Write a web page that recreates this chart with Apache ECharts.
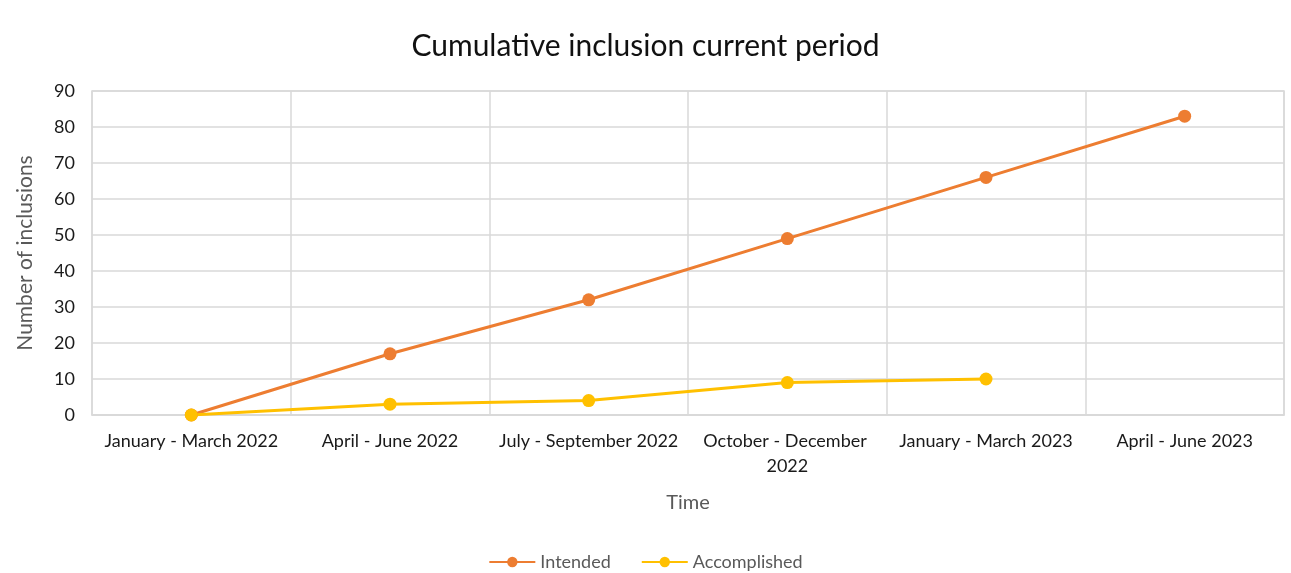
<!DOCTYPE html>
<html>
<head>
<meta charset="utf-8">
<script src="https://cdn.jsdelivr.net/npm/echarts@6/dist/echarts.min.js"></script>
<style>
html,body{margin:0;padding:0;background:#fdfdf7;}
#chart{width:1291px;height:573px;}
</style>
</head>
<body>
<div id="chart"></div>
<script>
const categories = ["January - March 2022","April - June 2022","July - September 2022","October - December 2022","January - March 2023","April - June 2023"];
const intended = [0, 17, 32, 49, 66, 83];
const accomplished = [0, 3, 4, 9, 10, null];
const yTicks = {min: 0, max: 90, interval: 10};

const FONT = 'Lato, "Open Sans", sans-serif';
const chart = echarts.init(document.getElementById('chart'));
chart.setOption({
  backgroundColor: '#ffffff',
  textStyle: {fontFamily: FONT},
  title: {
    text: 'Cumulative inclusion current period',
    left: 'center', top: 26,
    textStyle: {fontFamily: FONT, fontSize: 30, fontWeight: 'normal', color: '#111111'}
  },
  grid: {left: 92, right: 7, top: 91, bottom: 158, show: true, borderColor: '#d9d9d9', borderWidth: 1.5},
  legend: {
    top: 548, left: 'center', itemWidth: 46, itemHeight: 13, itemGap: 30,
    textStyle: {fontFamily: FONT, fontSize: 18, color: '#595959'},
    data: ['Intended', 'Accomplished']
  },
  xAxis: {
    type: 'category', data: categories, boundaryGap: true,
    name: 'Time', nameLocation: 'middle', nameGap: 78,
    nameTextStyle: {fontFamily: FONT, fontSize: 20, color: '#595959'},
    axisLine: {lineStyle: {color: '#d9d9d9', width: 1.5}},
    axisTick: {show: false},
    axisLabel: {interval: 0, fontFamily: FONT, fontSize: 18, color: '#1a1a1a', margin: 14, width: 184, overflow: 'break', lineHeight: 25},
    splitLine: {show: true, interval: 0, lineStyle: {color: '#d9d9d9', width: 1.5}}
  },
  yAxis: {
    type: 'value', min: yTicks.min, max: yTicks.max, interval: yTicks.interval,
    name: 'Number of inclusions', nameLocation: 'middle', nameGap: 56,
    nameTextStyle: {fontFamily: FONT, fontSize: 21, color: '#595959'},
    axisLine: {show: false}, axisTick: {show: false},
    axisLabel: {fontFamily: FONT, fontSize: 18, color: '#1a1a1a', margin: 17},
    splitLine: {lineStyle: {color: '#d9d9d9', width: 1.5}}
  },
  series: [
    {name: 'Intended', type: 'line', data: intended, symbol: 'circle', symbolSize: 13,
     lineStyle: {color: '#ED7D31', width: 3}, itemStyle: {color: '#ED7D31'}},
    {name: 'Accomplished', type: 'line', data: accomplished, symbol: 'circle', symbolSize: 13,
     lineStyle: {color: '#FFC000', width: 3}, itemStyle: {color: '#FFC000'}}
  ]
});
</script>
</body>
</html>
